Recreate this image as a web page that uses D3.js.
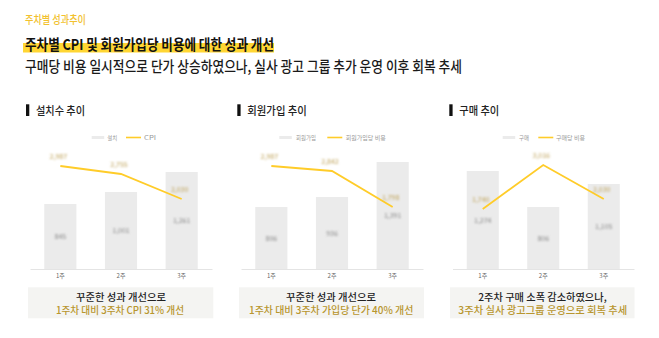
<!DOCTYPE html>
<html><head><meta charset="utf-8">
<script src="https://cdn.jsdelivr.net/npm/d3@7"></script>
<style>
html,body{margin:0;padding:0;background:#fff;}
svg{display:block;font-family:"Noto Sans CJK KR","Noto Sans",sans-serif;}
</style></head>
<body><svg id="c" width="659" height="338"></svg>
<script>
// ---- data ----
const weeks = ["1주", "2주", "3주"];
const chartTitles = ["설치수 추이", "회원가입 추이", "구매 추이"];
const barNames = ["설치", "회원가입", "구매"];
const lineNames = ["CPI", "회원가입당 비용", "구매당 비용"];
const installs = [65, 77, 97];
const cpi = [103, 95, 70];
const signups = [62, 72, 107];
const signupCost = [103, 98, 62];
const purchases = [98, 62, 85];
const purchaseCost = [60, 104, 70];
const noteLine1 = ["꾸준한 성과 개선으로", "꾸준한 성과 개선으로", "2주차 구매 소폭 감소하였으나,"];
const noteLine2 = ["1주차 대비 3주차 CPI 31% 개선", "1주차 대비 3주차 가입당 단가 40% 개선", "3주차 실사 광고그룹 운영으로 회복 추세"];
const headerText = "주차별 성과추이";
const titleText = "주차별 CPI 및 회원가입당 비용에 대한 성과 개선";
const subtitleText = "구매당 비용 일시적으로 단가 상승하였으나, 실사 광고 그룹 추가 운영 이후 회복 추세";

const barSeries = [installs, signups, purchases];
const lineSeries = [cpi, signupCost, purchaseCost];

// ---- layout ----
const svg = d3.select("#c");
const YEL = "#ffcc29", GOLD = "#b8962e", BAR = "#ebebeb";
const defs = svg.append("defs");
defs.append("filter").attr("id","blur").attr("x","-50%").attr("y","-50%").attr("width","200%").attr("height","200%")
  .append("feGaussianBlur").attr("stdDeviation", 1.1);

svg.append("text").attr("x",25).attr("y",24).attr("font-size",11).attr("font-weight",500).attr("fill","#f2c12e")
  .attr("textLength",61).attr("lengthAdjust","spacingAndGlyphs").text(headerText);
svg.append("rect").attr("x",23).attr("y",43).attr("width",251).attr("height",9.5).attr("fill","#ffd633");
svg.append("text").attr("x",25).attr("y",50).attr("font-size",15).attr("font-weight",700).attr("fill","#111")
  .attr("textLength",249).attr("lengthAdjust","spacingAndGlyphs").text(titleText);
svg.append("text").attr("x",25).attr("y",71.5).attr("font-size",15).attr("font-weight",500).attr("fill","#1a1a1a")
  .attr("textLength",437).attr("lengthAdjust","spacingAndGlyphs").text(subtitleText);

const panels = [
  {x0:30, x1:212, titleX:26, legend:[91.7,107.3,126,144], n1:[76,166], n2:[56,184], box:[28,213.3]},
  {x0:241, x1:423, titleX:237.3, legend:[279.3,296,327.3,345.7], n1:[286,376], n2:[249,413.3], box:[239,424]},
  {x0:452.5, x1:634, titleX:449.3, legend:[502.7,519,538.3,556], n1:[478.3,606.7], n2:[458.3,627.3], box:[450,634.5]}
];
const titleW = [49, 59.5, 40];
const legW1 = [10, 20, 10];
const legW2 = [12, 40, 29];
const baseY = 269, topY = 149;
const y = d3.scaleLinear().domain([0,120]).range([baseY, topY]);

panels.forEach((p,i) => {
  const g = svg.append("g");
  // title
  g.append("rect").attr("x",p.titleX).attr("y",104.3).attr("width",3.3).attr("height",11.7).attr("fill","#111");
  g.append("text").attr("x",p.titleX+10).attr("y",114.5).attr("font-size",11).attr("font-weight",500).attr("fill","#222")
    .attr("textLength",titleW[i]).attr("lengthAdjust","spacingAndGlyphs").text(chartTitles[i]);
  // legend
  const L = p.legend;
  g.append("rect").attr("x",L[0]).attr("y",136).attr("width",12.5).attr("height",3).attr("fill",BAR);
  g.append("text").attr("x",L[1]).attr("y",139.5).attr("font-size",6).attr("fill","#999")
    .attr("textLength",legW1[i]).attr("lengthAdjust","spacingAndGlyphs").text(barNames[i]);
  g.append("line").attr("x1",L[2]).attr("x2",L[2]+15).attr("y1",137.5).attr("y2",137.5).attr("stroke",YEL).attr("stroke-width",1.6);
  g.append("text").attr("x",L[3]).attr("y",139.5).attr("font-size",6).attr("fill","#999")
    .attr("textLength",legW2[i]).attr("lengthAdjust","spacingAndGlyphs").text(lineNames[i]);

  const x = d3.scaleBand().domain(weeks).range([p.x0,p.x1]).paddingInner(0.47).paddingOuter(0.235);
  const bars = barSeries[i], line = lineSeries[i];
  g.selectAll(".bar").data(weeks).join("rect")
    .attr("x", d=>x(d)).attr("width", x.bandwidth())
    .attr("y", (d,j)=>y(bars[j])).attr("height",(d,j)=>baseY - y(bars[j])).attr("fill",BAR);
  // axis
  const ax = g.append("g").attr("transform",`translate(0,${baseY})`)
    .call(d3.axisBottom(x).tickSize(0).tickPadding(5));
  ax.select(".domain").attr("stroke","#ddd").attr("stroke-width",0.8);
  ax.selectAll("text").attr("font-size",6).attr("fill","#666").attr("font-family","Noto Sans CJK KR");
  // bar labels (blurred in reference)
  g.selectAll(".bl").data(weeks).join("text")
    .attr("x", d=>x(d)+x.bandwidth()/2).attr("y",(d,j)=>(y(bars[j])+baseY)/2+2.5)
    .attr("text-anchor","middle").attr("font-size",7).attr("fill","#888").attr("filter","url(#blur)")
    .text((d,j)=>d3.format(",")(bars[j]*13));
  // line
  const lineGen = d3.line().x((d,j)=>x(weeks[j])+x.bandwidth()/2).y(d=>y(d));
  g.append("path").datum(line).attr("d",lineGen).attr("fill","none").attr("stroke",YEL).attr("stroke-width",1.8);
  g.selectAll(".ll").data(weeks).join("text")
    .attr("x", d=>x(d)+x.bandwidth()/2-2).attr("y",(d,j)=>y(line[j])-7)
    .attr("text-anchor","middle").attr("font-size",7).attr("fill","#bfa35a").attr("filter","url(#blur)")
    .text((d,j)=>d3.format(",")(line[j]*29));
  // note box
  g.append("rect").attr("x",p.box[0]).attr("y",287.3).attr("width",p.box[1]-p.box[0]).attr("height",31).attr("fill","#f4f4f2");
  g.append("text").attr("x",p.n1[0]).attr("y",300.5).attr("font-size",10).attr("font-weight",500).attr("fill","#222")
    .attr("textLength",p.n1[1]-p.n1[0]).attr("lengthAdjust","spacingAndGlyphs").text(noteLine1[i]);
  g.append("text").attr("x",p.n2[0]).attr("y",314).attr("font-size",10).attr("font-weight",500).attr("fill",GOLD)
    .attr("textLength",p.n2[1]-p.n2[0]).attr("lengthAdjust","spacingAndGlyphs").text(noteLine2[i]);
});
</script></body></html>
